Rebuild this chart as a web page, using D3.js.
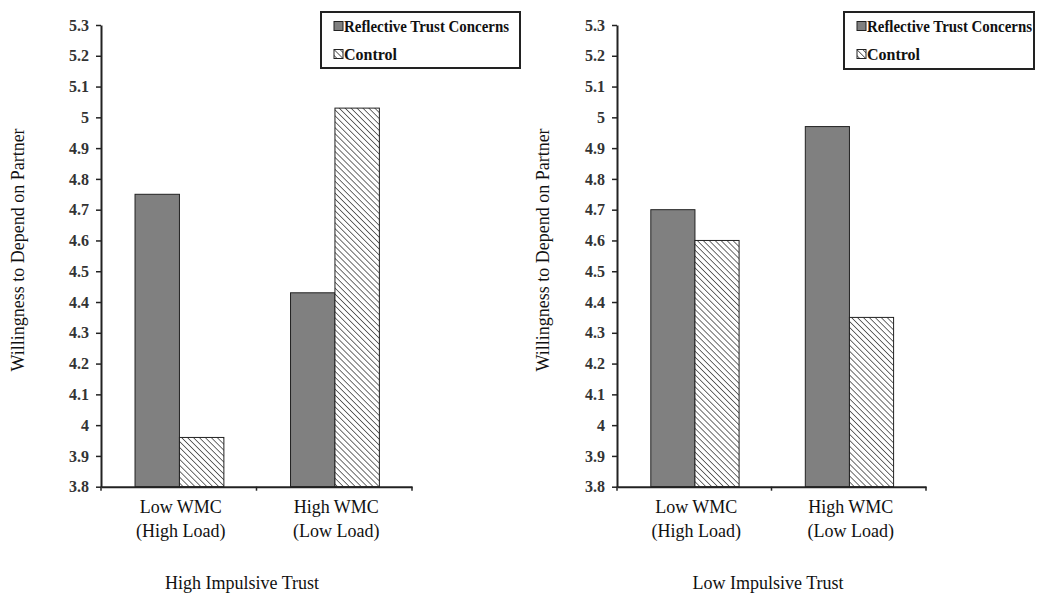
<!DOCTYPE html>
<html><head><meta charset="utf-8">
<script src="https://cdn.jsdelivr.net/npm/d3@7"></script>
<style>body{margin:0;background:#fff}svg{display:block}</style>
</head><body>
<svg id="c" width="1050" height="599"></svg>
<script>
const categories = ["Low WMC|(High Load)", "High WMC|(Low Load)"];
const seriesNames = ["Reflective Trust Concerns", "Control"];
const panelTitles = ["High Impulsive Trust", "Low Impulsive Trust"];
const reflectiveHighImpulsive = [4.75, 4.43];
const controlHighImpulsive = [3.96, 5.03];
const reflectiveLowImpulsive = [4.70, 4.97];
const controlLowImpulsive = [4.60, 4.35];
const yTicks = [3.8, 3.9, 4.0, 4.1, 4.2, 4.3, 4.4, 4.5, 4.6, 4.7, 4.8, 4.9, 5.0, 5.1, 5.2, 5.3];
const yTitle = "Willingness to Depend on Partner";

const svg = d3.select("#c");
const defs = svg.append("defs");
const pat = defs.append("pattern").attr("id","hatch").attr("patternUnits","userSpaceOnUse")
  .attr("width",4.2).attr("height",4.2).attr("patternTransform","rotate(45)");
pat.append("rect").attr("width",4.2).attr("height",4.2).attr("fill","#fff");
pat.append("line").attr("x1",0).attr("y1",0).attr("x2",4.2).attr("y2",0)
  .attr("stroke","#222").attr("stroke-width",1.3);

const panels = [
  {x0:101, x1:412, title:panelTitles[0], vals:[reflectiveHighImpulsive, controlHighImpulsive], titleX:242, yTitleX:18, legend:[321,12,199,56]},
  {x0:617, x1:926, title:panelTitles[1], vals:[reflectiveLowImpulsive, controlLowImpulsive], titleX:768, yTitleX:543, legend:[844,12,190,57]}
];

const y = d3.scaleLinear().domain([3.8,5.3]).range([486.7,25]);
const fills = ["#808080","url(#hatch)"];
const serif = "'Liberation Serif','Times New Roman',serif";

panels.forEach(p => {
  const g = svg.append("g");
  const x = d3.scaleBand().domain(categories).range([p.x0,p.x1]).paddingInner(0).paddingOuter(0);
  const xs = d3.scaleBand().domain(seriesNames).range([0,x.bandwidth()]).paddingInner(0).paddingOuter(0.75);

  // bars
  categories.forEach((c,ci) => {
    seriesNames.forEach((s,si) => {
      const v = p.vals[si][ci];
      g.append("rect")
        .attr("x", x(c)+xs(s)+0.7).attr("width", xs.bandwidth())
        .attr("y", y(v)).attr("height", y(3.8)-y(v))
        .attr("fill", fills[si]).attr("stroke","#222").attr("stroke-width",1);
    });
  });

  // y axis
  const ya = g.append("g").attr("transform",`translate(${p.x0},0)`)
    .call(d3.axisLeft(y).tickValues(yTicks).tickSize(5).tickSizeOuter(0).tickPadding(7)
      .tickFormat(d => String(+d.toFixed(1))));
  ya.select(".domain").attr("stroke","#222").attr("stroke-width",2);
  ya.selectAll(".tick line").attr("stroke","#222").attr("stroke-width",1.5);
  ya.selectAll(".tick text").attr("font-family",serif).attr("font-weight","bold")
    .attr("font-size",16).attr("fill","#333");

  // x axis
  const xa = g.append("g").attr("transform",`translate(0,${y(3.8)})`)
    .call(d3.axisBottom(x).tickValues([]).tickSizeOuter(0));
  xa.select(".domain").attr("stroke","#222").attr("stroke-width",2);
  const bounds = [p.x0, x(categories[1]), p.x1];
  bounds.forEach(bx => g.append("line").attr("x1",bx).attr("x2",bx)
    .attr("y1",y(3.8)).attr("y2",y(3.8)+4).attr("stroke","#222").attr("stroke-width",1.5));

  categories.forEach(c => {
    const lines = c.split("|");
    const t = g.append("text").attr("text-anchor","middle").attr("font-family",serif)
      .attr("font-size",18).attr("fill","#111");
    lines.forEach((l,i) => t.append("tspan").attr("x", x(c)+x.bandwidth()/2+2)
      .attr("y", 513 + i*23.5).text(l));
  });

  // panel title
  g.append("text").attr("x",p.titleX).attr("y",589).attr("text-anchor","middle")
    .attr("font-family",serif).attr("font-size",18).attr("fill","#111").text(p.title);

  // y title
  g.append("text").attr("transform",`translate(${p.yTitleX+6},250) rotate(-90)`)
    .attr("text-anchor","middle").attr("font-family",serif).attr("font-size",18)
    .attr("fill","#111").text(yTitle);

  // legend
  const [lx,ly,lw,lh] = p.legend;
  const lg = g.append("g");
  lg.append("rect").attr("x",lx).attr("y",ly).attr("width",lw).attr("height",lh)
    .attr("fill","#fff").attr("stroke","#222").attr("stroke-width",2);
  seriesNames.forEach((s,i) => {
    const cy = ly + 14 + i*28;
    lg.append("rect").attr("x",lx+13).attr("y",cy-4.5).attr("width",9).attr("height",9)
      .attr("fill",fills[i]).attr("stroke","#222").attr("stroke-width",1);
    const t = lg.append("text").attr("x",lx+23).attr("y",cy+5.5)
      .attr("font-family",serif).attr("font-weight","bold").attr("font-size",16)
      .attr("fill","#111").text(s);
    if (i===0) t.attr("textLength",165).attr("lengthAdjust","spacingAndGlyphs");
  });
});
</script>
</body></html>
